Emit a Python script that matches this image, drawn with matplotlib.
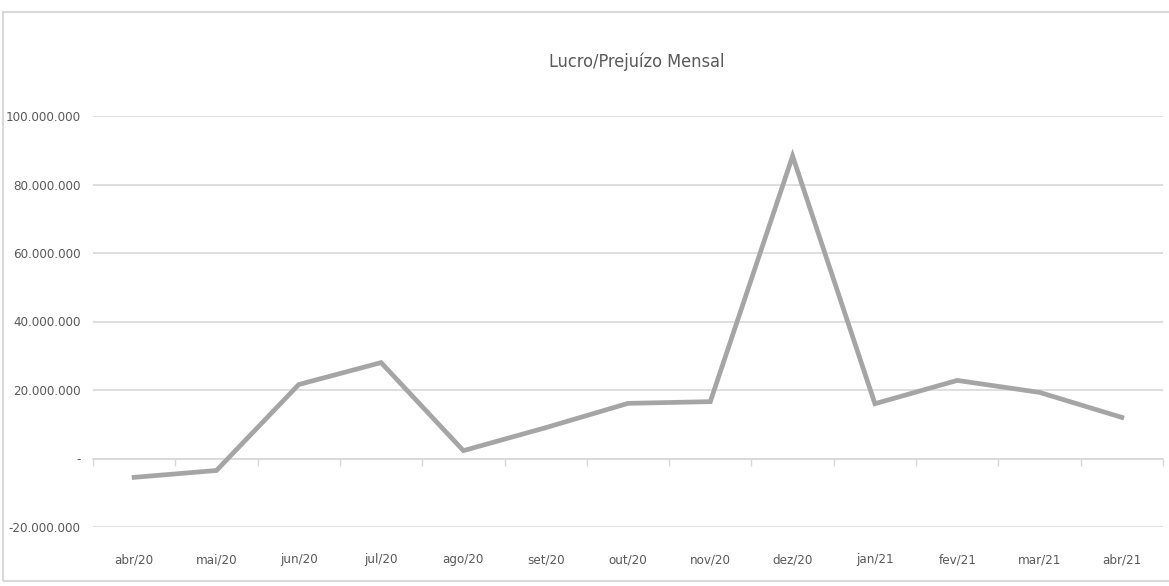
import matplotlib.pyplot as plt
from matplotlib.patches import Rectangle
from matplotlib.ticker import FuncFormatter, FixedLocator
import numpy as np

# Data (values in R$)
months = ['abr/20', 'mai/20', 'jun/20', 'jul/20', 'ago/20', 'set/20', 'out/20',
          'nov/20', 'dez/20', 'jan/21', 'fev/21', 'mar/21', 'abr/21']
resultado = [-5.5e6, -3.5e6, 21.6e6, 28.0e6, 2.3e6, 9.0e6, 16.1e6,
             16.6e6, 88.3e6, 16.0e6, 22.8e6, 19.3e6, 12.0e6]
yticks = [-20e6, 0, 20e6, 40e6, 60e6, 80e6, 100e6]

plt.rcParams['font.family'] = ['DejaVu Sans']
plt.rcParams['font.stretch'] = 'condensed'
txt_color = '#595959'
grid_color = '#D9D9D9'

fig = plt.figure(figsize=(11.69, 5.86), dpi=100)
ax = fig.add_axes([93/1169, 1 - 527/586, (1163 - 93)/1169, (527 - 116)/586])

x = np.arange(len(months))
ax.plot(x, resultado, color='#A5A5A5', lw=3.4, solid_joinstyle='miter', zorder=3)

ax.set_xlim(-0.5, len(months) - 0.5)
ax.set_ylim(yticks[0], yticks[-1])

def fmt(v, pos):
    if abs(v) < 1:
        return '-'
    return '{:,.0f}'.format(v).replace(',', '.')

ax.set_yticks(yticks)
ax.yaxis.set_major_formatter(FuncFormatter(fmt))
ax.tick_params(axis='y', length=0, pad=9, labelsize=9.5, labelcolor=txt_color)
ax.grid(axis='y', color=grid_color, lw=1.2, zorder=0)

for s in ['top', 'right', 'left']:
    ax.spines[s].set_visible(False)
ax.spines['bottom'].set_position(('data', 0))
ax.spines['bottom'].set_color(grid_color)
ax.spines['bottom'].set_linewidth(1.2)
ax.xaxis.set_major_locator(FixedLocator(np.arange(len(months) + 1) - 0.5))
ax.tick_params(axis='x', length=5, width=1, color=grid_color, labelbottom=False)

sec = ax.secondary_xaxis(0)
sec.set_xticks(x)
sec.set_xticklabels(months)
sec.tick_params(length=0, pad=19, labelsize=9.5, labelcolor=txt_color)
sec.spines['bottom'].set_visible(False)

fig.text(0.5 + 52/1169, 1 - 62/586, 'Lucro/Prejuízo Mensal', ha='center', va='center',
         fontsize=13, color=txt_color)

fig.patches.append(Rectangle((3/1169, 1 - 581/586), 1.2, 569/586, transform=fig.transFigure,
                             fill=False, ec=grid_color, lw=1.5))

fig.savefig('out.png', dpi=100, facecolor='white')
